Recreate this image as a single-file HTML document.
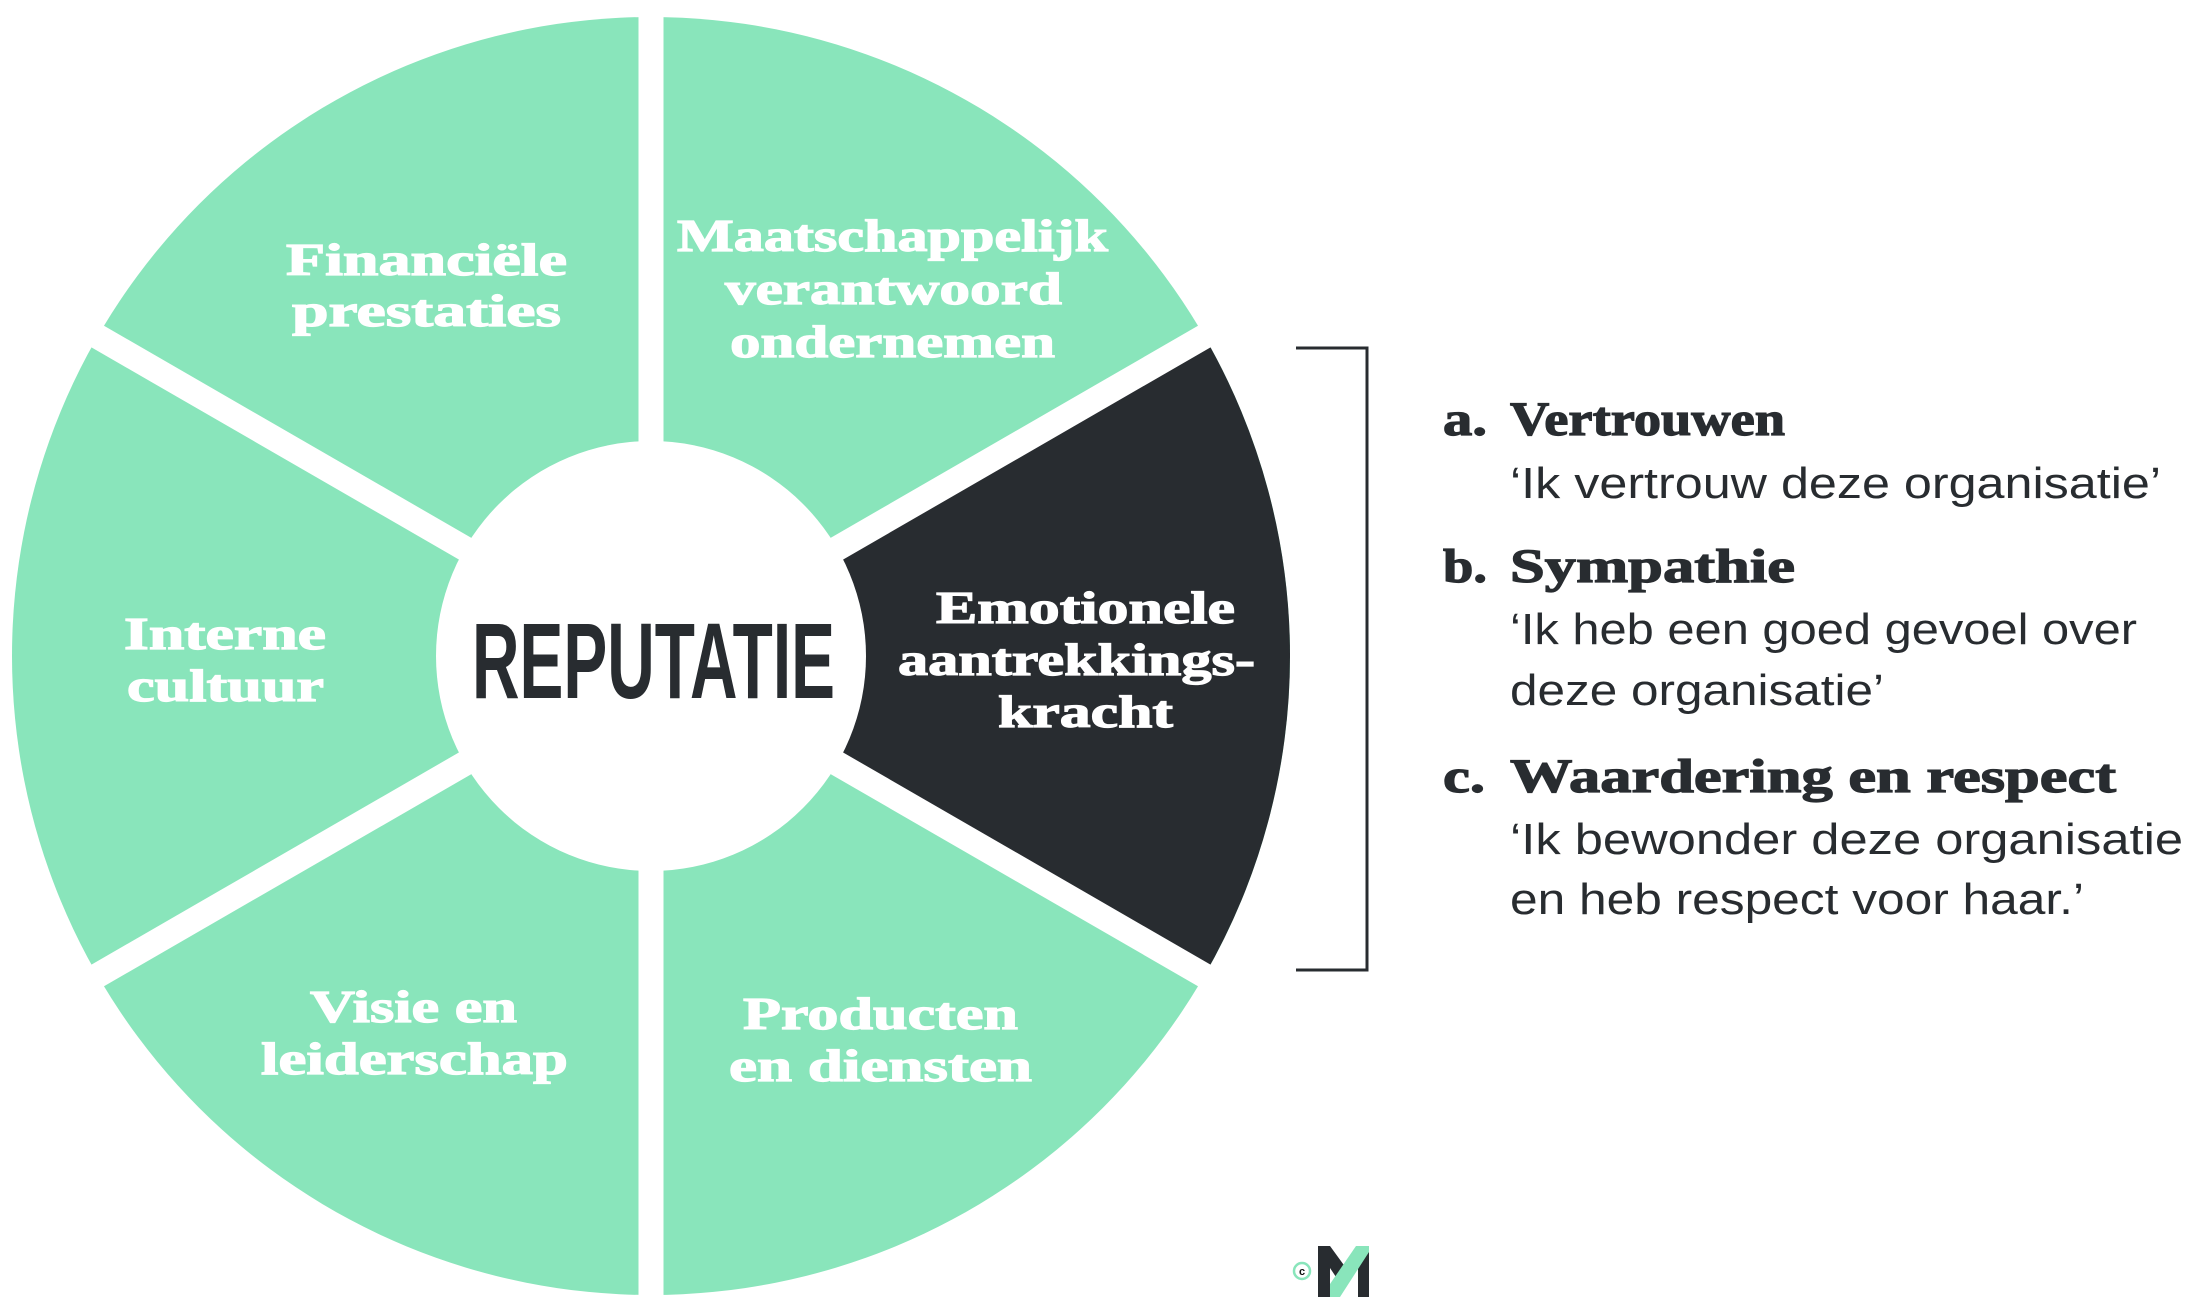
<!DOCTYPE html>
<html><head><meta charset="utf-8"><style>
html,body{margin:0;padding:0;background:#fff;}
svg{display:block;}
.w{font-family:"Liberation Serif",serif;font-weight:bold;fill:#fff;font-size:46px;stroke:#fff;stroke-width:1.2px;}
.b{font-family:"Liberation Serif",serif;font-weight:bold;fill:#282c30;font-size:48px;stroke:#282c30;stroke-width:1.2px;}
.r{font-family:"Liberation Sans",sans-serif;fill:#282c30;font-size:44px;}
</style></head><body>
<svg width="2200" height="1312" viewBox="0 0 2200 1312" xmlns="http://www.w3.org/2000/svg">
<circle cx="651" cy="656" r="639" fill="#89e5bb"/>
<path d="M651 656 L1204.4 336.5 A639 639 0 0 1 1204.4 975.5 Z" fill="#282c30"/>
<g stroke="#fff" stroke-width="25">
<line x1="651" y1="0" x2="651" y2="1312"/>
<line x1="51" y1="309.6" x2="1251" y2="1002.4"/>
<line x1="51" y1="1002.4" x2="1251" y2="309.6"/>
</g>
<circle cx="651" cy="656" r="215" fill="#fff"/>
<text x="472" y="698" font-family="'Liberation Sans Narrow','Liberation Sans',sans-serif" font-weight="bold" font-size="108" fill="#282c30" textLength="363" lengthAdjust="spacingAndGlyphs">REPUTATIE</text>
<g class="w">
<text x="286" y="275" textLength="281" lengthAdjust="spacingAndGlyphs">Financiële</text>
<text x="292" y="326" textLength="269" lengthAdjust="spacingAndGlyphs">prestaties</text>
<text x="677" y="251" textLength="431" lengthAdjust="spacingAndGlyphs">Maatschappelijk</text>
<text x="725" y="304" textLength="337" lengthAdjust="spacingAndGlyphs">verantwoord</text>
<text x="730" y="357" textLength="325" lengthAdjust="spacingAndGlyphs">ondernemen</text>
<text x="124" y="649" textLength="202" lengthAdjust="spacingAndGlyphs">Interne</text>
<text x="127" y="701" textLength="197" lengthAdjust="spacingAndGlyphs">cultuur</text>
<text x="936" y="623" textLength="299" lengthAdjust="spacingAndGlyphs">Emotionele</text>
<text x="898" y="675" textLength="357" lengthAdjust="spacingAndGlyphs">aantrekkings-</text>
<text x="998" y="727" textLength="175" lengthAdjust="spacingAndGlyphs">kracht</text>
<text x="310" y="1022" textLength="207" lengthAdjust="spacingAndGlyphs">Visie en</text>
<text x="261" y="1074" textLength="307" lengthAdjust="spacingAndGlyphs">leiderschap</text>
<text x="743" y="1029" textLength="275" lengthAdjust="spacingAndGlyphs">Producten</text>
<text x="729" y="1081" textLength="303" lengthAdjust="spacingAndGlyphs">en diensten</text>
</g>
<path d="M1296 348 H1367 V970 H1296" fill="none" stroke="#282c30" stroke-width="3"/>
<g class="b">
<text x="1443" y="435" textLength="44" lengthAdjust="spacingAndGlyphs">a.</text>
<text x="1510" y="435" textLength="275" lengthAdjust="spacingAndGlyphs">Vertrouwen</text>
<text x="1443" y="582" textLength="44" lengthAdjust="spacingAndGlyphs">b.</text>
<text x="1510" y="582" textLength="285" lengthAdjust="spacingAndGlyphs">Sympathie</text>
<text x="1443" y="792" textLength="42" lengthAdjust="spacingAndGlyphs">c.</text>
<text x="1510" y="792" textLength="606" lengthAdjust="spacingAndGlyphs">Waardering en respect</text>
</g>
<g class="r">
<text x="1510" y="498" textLength="651" lengthAdjust="spacingAndGlyphs">‘Ik vertrouw deze organisatie’</text>
<text x="1510" y="644" textLength="627" lengthAdjust="spacingAndGlyphs">‘Ik heb een goed gevoel over</text>
<text x="1510" y="705" textLength="374" lengthAdjust="spacingAndGlyphs">deze organisatie’</text>
<text x="1510" y="854" textLength="673" lengthAdjust="spacingAndGlyphs">‘Ik bewonder deze organisatie</text>
<text x="1510" y="914" textLength="574" lengthAdjust="spacingAndGlyphs">en heb respect voor haar.’</text>
</g>
<circle cx="1302" cy="1271" r="8" fill="#fff" stroke="#89e5bb" stroke-width="2.5"/>
<text x="1302" y="1275" font-family="Liberation Sans,sans-serif" font-size="11" font-weight="bold" text-anchor="middle" fill="#111">c</text>
<path d="M1318 1246 H1330 L1346 1268 L1338 1280 L1330 1268 V1297 H1318 Z" fill="#282c30"/>
<rect x="1358" y="1246" width="11" height="51" fill="#282c30"/>
<path d="M1330 1297 L1330 1284 L1356 1246 H1369 V1252 L1340 1297 Z" fill="#89e5bb"/>
</svg>
</body></html>
